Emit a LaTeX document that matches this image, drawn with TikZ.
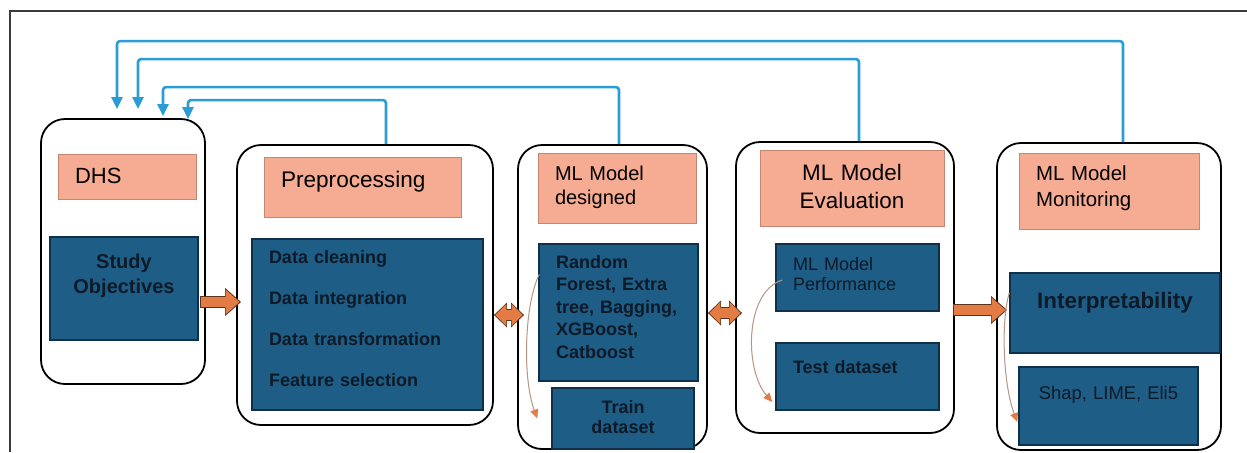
\documentclass[tikz,border=0pt]{standalone}
\usepackage{fontspec}
\setmainfont{Liberation Sans}
\usetikzlibrary{calc, arrows.meta}

\definecolor{headfill}{HTML}{F5AC93}
\definecolor{headedge}{HTML}{C48670}
\definecolor{itemfill}{HTML}{1E5D85}
\definecolor{itemedge}{HTML}{0F3048}
\definecolor{itemtext}{HTML}{0E1A27}
\definecolor{fbblue}{HTML}{2A9ED4}
\definecolor{arrfill}{HTML}{E27B44}
\definecolor{arredge}{HTML}{5B3420}
\definecolor{flowline}{HTML}{B89484}
\definecolor{framegray}{HTML}{3B3B3B}

\begin{document}
\begin{tikzpicture}[x=0.5pt, y=-0.5pt,
    stage/.style={draw=black, line width=0.9pt, rounded corners=12pt, fill=white},
    head/.style={draw=headedge, line width=0.5pt, fill=headfill, text=black, inner xsep=8.5pt, inner ysep=0pt, align=left},
    item/.style={draw=itemedge, line width=0.7pt, fill=itemfill, text=itemtext, inner xsep=8.5pt, inner ysep=0pt, align=left},
    fb/.style={draw=fbblue, line width=1.3pt, rounded corners=1.5pt, -{Triangle[length=6pt,width=5.5pt]}},
    fat/.style={draw=arrfill, line width=5pt, shorten >=0.8pt, shorten <=0.5pt, -{Triangle[length=7pt,width=12pt]},
        preaction={draw=arredge, line width=6pt, shorten >=0pt, shorten <=0pt, -{Triangle[length=8pt,width=13.5pt]}}},
    twin/.style={draw=arrfill, line width=5pt, shorten >=0.7pt, shorten <=0.7pt, {Triangle[length=5.5pt,width=10.5pt]}-{Triangle[length=5.5pt,width=10.5pt]},
        preaction={draw=arredge, line width=6pt, shorten >=0pt, shorten <=0pt, {Triangle[length=6.5pt,width=12pt]}-{Triangle[length=6.5pt,width=12pt]}}},
    flow/.style={draw=flowline, line width=0.5pt, -{Triangle[length=4.5pt,width=4pt,color=arrfill]}}]

    \useasboundingbox (0,0) rectangle (1247,452);
    \draw[framegray, line width=0.75pt] (10,452) -- (10,11) -- (1247,11);

    % Define stages
    \node[stage, minimum width=82pt, minimum height=132.5pt] (dhs) at (123,251.5) {};
    \node[stage, minimum width=128pt, minimum height=140pt] (pre) at (365,285) {};
    \node[stage, minimum width=94.5pt, minimum height=152pt] (des) at (612.5,297) {};
    \node[stage, minimum width=109pt, minimum height=145.5pt] (eva) at (845,287.5) {};
    \node[stage, minimum width=112pt, minimum height=153.5pt] (mon) at (1109,296.5) {};

    % Stage titles
    \node[head, text width=52pt, minimum height=22.5pt, font=\fontsize{11}{13}\selectfont, text height=6.5pt, text depth=0pt] (hdhs) at (127,176.5) {DHS};
    \node[head, text width=81.5pt, minimum height=30pt, font=\fontsize{11.3}{13}\selectfont, text height=0pt, text depth=0pt] (hpre) at (362.5,187) {Preprocessing};
    \node[head, text width=62pt, minimum height=35pt, font=\fontsize{10}{12}\selectfont, text height=0pt, text depth=8pt] (hdes) at (617,188) {ML Model\\designed};
    \node[head, align=center, text width=75pt, minimum height=38pt, font=\fontsize{11.2}{14}\selectfont, text height=0pt, text depth=8pt] (heva) at (852,188) {ML Model\\Evaluation};
    \node[head, text width=73pt, minimum height=38pt, font=\fontsize{10.2}{13}\selectfont, text height=0pt, text depth=11pt] (hmon) at (1109,191) {ML Model\\Monitoring};

    % Stage contents
    \node[item, align=center, text width=57pt, minimum height=51.5pt, font=\bfseries\fontsize{10}{12.5}\selectfont, text height=0pt, text depth=20.5pt] (study) at (124,288.5) {Study\\Objectives};
    \node[item, text width=98.5pt, minimum height=85.5pt, font=\bfseries\fontsize{9}{20.5}\selectfont, text height=0pt, text depth=61.5pt] (steps) at (367.5,324.5) {Data cleaning\\Data integration\\Data transformation\\Feature selection};
    \node[item, text width=62.5pt, minimum height=68.5pt, font=\bfseries\fontsize{9}{11.25}\selectfont, text height=0pt, text depth=44.5pt] (models) at (618.5,312.5) {Random\\Forest, Extra\\tree, Bagging,\\XGBoost,\\Catboost};
    \node[item, align=center, text width=54pt, minimum height=30.5pt, font=\bfseries\fontsize{9}{10}\selectfont, text height=0pt, text depth=5.5pt] (train) at (623,418.5) {Train\\dataset};
    \node[item, text width=64.5pt, minimum height=33.5pt, font=\fontsize{9}{10}\selectfont, text height=0pt, text depth=7.5pt] (perf) at (857.5,277.5) {ML Model\\Performance};
    \node[item, text width=64.5pt, minimum height=33.5pt, font=\bfseries\fontsize{9}{11}\selectfont, text height=0pt, text depth=3.5pt] (test) at (857.5,376.5) {Test dataset};
    \node[item, align=center, text width=88pt, minimum height=40pt, font=\bfseries\fontsize{11.2}{13}\selectfont, text height=0pt, text depth=5pt] (interp) at (1115,313) {Interpretability};
    \node[item, align=center, text width=72.5pt, minimum height=39pt, font=\fontsize{9.2}{11}\selectfont, text height=0pt, text depth=7pt] (shap) at (1108.5,406) {Shap, LIME, Eli5};

    % Feedback ends above DHS
    \coordinate (in1) at (117,109);
    \coordinate (in2) at (138,109);
    \coordinate (in3) at (163,116);
    \coordinate (in4) at (188,119);

    \draw[fb] ($(mon.north)+(14,0)$) -- ++(0,-101) -| (in1);
    \draw[fb] ($(eva.north)+(14,0)$) -- ++(0,-82) -| (in2);
    \draw[fb] ($(des.north)+(6.5,0)$) -- ++(0,-57) -| (in3);
    \draw[fb] ($(pre.north)+(21,0)$) -- ++(0,-44) -| (in4);

    % Main flow
    \draw[fat] ($(study.east)+(1,13.5)$) -- ($(study.east -| pre.west)+(5,13.5)$);
    \draw[twin] ($(pre.east)+(0,30)$) -- ($(des.west)+(7,18)$);
    \draw[twin] ($(des.east)+(0,16)$) -- ($(eva.west)+(7,25.5)$);
    \draw[fat] ($(eva.east)+(-2,22.5)$) -- ($(mon.west)+(11,13.5)$);

    % Inner flow
    \draw[flow] ($(models.north west)+(1,31)$) .. controls ($(models.north west)+(-14,61)$) and ($(train.west)+(-29,-40.5)$) .. ($(train.west)+(-14,0)$);
    \draw[flow] ($(perf.west)+(7,2.5)$) .. controls ($(perf.west)+(-31,14.5)$) and ($(test.west)+(-31,-6.5)$) .. ($(test.west)+(-3,25.5)$);
    \draw[flow] ($(interp.west)+(0,-20)$) .. controls ($(interp.west)+(-8,5)$) and ($(shap.west)+(-16,-24)$) .. ($(shap.west)+(-1,16)$);

\end{tikzpicture}
\end{document}
